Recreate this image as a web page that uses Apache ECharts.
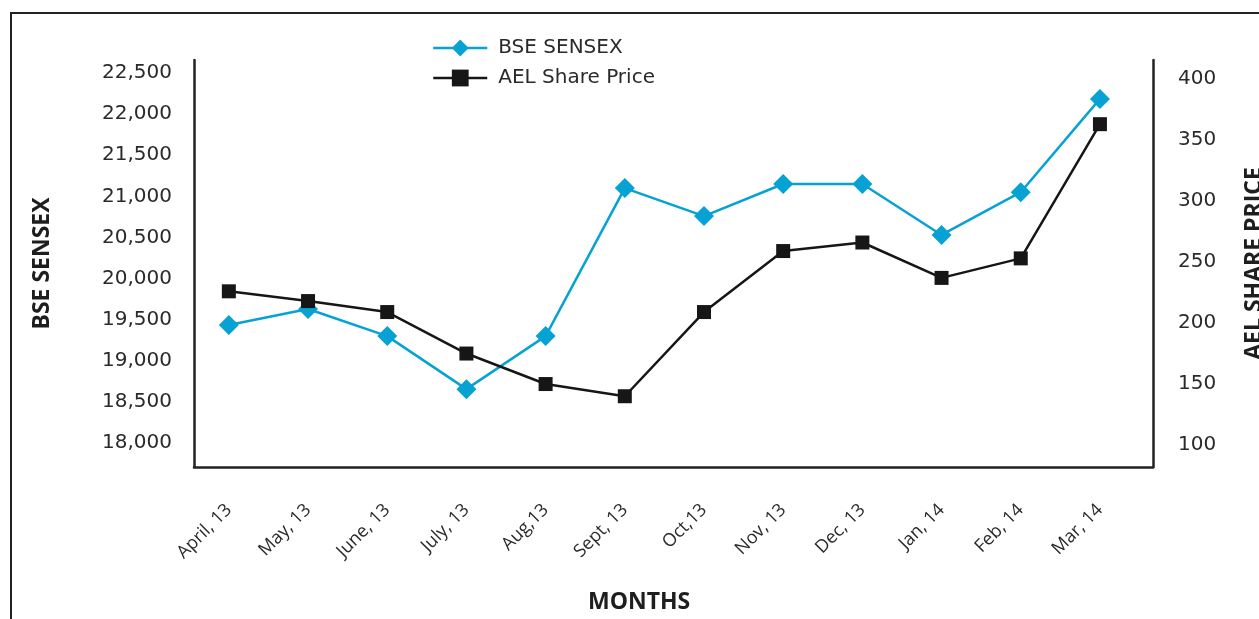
<!DOCTYPE html>
<html>
<head>
<meta charset="utf-8">
<script src="https://cdn.jsdelivr.net/npm/echarts@6/dist/echarts.min.js"></script>
<style>
    html, body { margin: 0; padding: 0; background: #fff; }
    #chart { width: 1259px; height: 619px; }
</style>
</head>
<body>
<div id="chart"></div>
<script>
// months on the x axis
var months = ['April, 13', 'May, 13', 'June, 13', 'July, 13', 'Aug,13', 'Sept, 13',
    'Oct,13', 'Nov, 13', 'Dec, 13', 'Jan, 14', 'Feb, 14', 'Mar, 14'];
// BSE SENSEX (left axis)
var sensex = [19435, 19630, 19300, 18655, 19300, 21100, 20760, 21150, 21150, 20530, 21050, 22185];
// AEL share price (right axis)
var aelPrice = [226, 218, 209, 175, 150, 140, 209, 259, 266, 237, 253, 363];
// tick labels
var sensexTicks = [18000, 18500, 19000, 19500, 20000, 20500, 21000, 21500, 22000, 22500];
var priceTicks = [100, 150, 200, 250, 300, 350, 400];

var monthIndex = months.map(function (m, i) { return i; });

var labelFont = 'DejaVu Sans';
var nameFont = 'Open Sans';

var chart = echarts.init(document.getElementById('chart'));
var option = {
    animation: false,
    backgroundColor: '#fff',
    grid: { left: 194, right: 106, top: 60, bottom: 152, containLabel: false, outerBoundsMode: 'none' },
    legend: {
        orient: 'vertical',
        left: 427,
        top: 33,
        itemWidth: 54,
        itemHeight: 21,
        itemGap: 10,
        lineStyle: { width: 2.5 },
        data: ['BSE SENSEX', 'AEL Share Price'],
        textStyle: { fontFamily: labelFont, fontSize: 20, color: '#2a2a2a', padding: [0, 0, 0, 6] }
    },
    graphic: [
        {
            // outer frame
            type: 'rect',
            shape: { x: 11, y: 13, width: 1300, height: 700 },
            style: { fill: null, stroke: '#222', lineWidth: 2 },
            silent: true
        },
        {
            type: 'text',
            left: 588,
            top: 591,
            style: { text: 'MONTHS', fontFamily: nameFont, fontWeight: 'bold', fontSize: 23, fill: '#1e1e1e' }
        }
    ],
    xAxis: {
        type: 'value',
        min: -0.44,
        max: 11.67,
        splitLine: { show: false },
        axisTick: { show: false },
        axisLine: { show: true, lineStyle: { color: '#222', width: 2.5 } },
        axisLabel: {
            customValues: monthIndex,
            formatter: function (v) { return months[v]; },
            rotate: 45,
            margin: 40,
            fontFamily: 'Open Sans',
            fontSize: 18,
            color: '#2a2a2a'
        }
    },
    yAxis: [
        {
            type: 'value',
            position: 'left',
            min: 17708,
            max: 22658,
            name: 'BSE SENSEX',
            nameLocation: 'middle',
            nameRotate: 90,
            nameGap: 140,
            nameTextStyle: { fontFamily: nameFont, fontWeight: 'bold', fontSize: 23, color: '#1e1e1e' },
            splitLine: { show: false },
            axisTick: { show: false },
            axisLine: { show: true, onZero: false, lineStyle: { color: '#222', width: 2.5 } },
            axisLabel: {
                customValues: sensexTicks,
                formatter: function (v) { return v.toLocaleString('en-US'); },
                margin: 22,
                fontFamily: labelFont,
                fontSize: 20,
                color: '#2a2a2a'
            }
        },
        {
            type: 'value',
            position: 'right',
            min: 82,
            max: 415.6,
            name: 'AEL SHARE PRICE',
            nameLocation: 'middle',
            nameRotate: 90,
            nameGap: 90,
            nameTextStyle: { fontFamily: nameFont, fontWeight: 'bold', fontSize: 23, color: '#1e1e1e' },
            splitLine: { show: false },
            axisTick: { show: false },
            axisLine: { show: true, onZero: false, lineStyle: { color: '#222', width: 2.5 } },
            axisLabel: {
                customValues: priceTicks,
                margin: 25,
                fontFamily: labelFont,
                fontSize: 20,
                color: '#2a2a2a'
            }
        }
    ],
    series: [
        {
            name: 'BSE SENSEX',
            type: 'line',
            yAxisIndex: 0,
            data: sensex.map(function (v, i) { return [i, v]; }),
            symbol: 'diamond',
            symbolSize: 20,
            lineStyle: { color: '#06a2d3', width: 2.5 },
            itemStyle: { color: '#06a2d3' }
        },
        {
            name: 'AEL Share Price',
            type: 'line',
            yAxisIndex: 1,
            data: aelPrice.map(function (v, i) { return [i, v]; }),
            symbol: 'rect',
            symbolSize: 14,
            lineStyle: { color: '#161616', width: 2.5 },
            itemStyle: { color: '#161616' }
        }
    ]
};
chart.setOption(option);
</script>
</body>
</html>
